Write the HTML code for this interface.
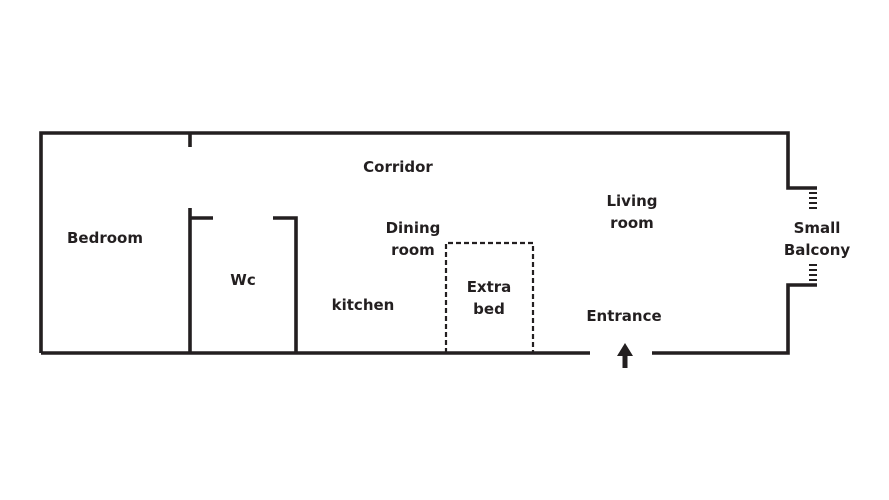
<!DOCTYPE html>
<html><head><style>
body{margin:0;background:#fff;}
svg{display:block}
text{font-family:"DejaVu Sans","Liberation Sans",sans-serif;font-weight:bold;font-size:15px;fill:#231f20;text-anchor:middle}
</style></head><body>
<svg width="889" height="500" viewBox="0 0 889 500">
<g stroke="#231f20" stroke-width="3.6" fill="none" stroke-linecap="butt">
<polyline points="41,353 41,133 788,133 788,188 817,188"/>
<polyline points="817,285 788,285 788,353 652,353"/>
<line x1="41" y1="353" x2="590" y2="353"/>
<line x1="190" y1="133" x2="190" y2="147"/>
<line x1="190" y1="208" x2="190" y2="353"/>
<line x1="190" y1="218" x2="213" y2="218"/>
<polyline points="273,218 296,218 296,353"/>
</g>
<g stroke="#231f20" stroke-width="2.2" fill="none" stroke-dasharray="5,3">
<polyline points="446,353 446,243 533,243 533,353"/>
</g>
<g stroke="#231f20" stroke-width="2">
<line x1="809" x2="817" y1="193" y2="193"/><line x1="809" x2="817" y1="198" y2="198"/>
<line x1="809" x2="817" y1="203" y2="203"/><line x1="809" x2="817" y1="208" y2="208"/>
<line x1="809" x2="817" y1="265" y2="265"/><line x1="809" x2="817" y1="270" y2="270"/>
<line x1="809" x2="817" y1="275" y2="275"/><line x1="809" x2="817" y1="280" y2="280"/>
</g>
<polygon points="625,343 617,356 633,356" fill="#231f20"/>
<rect x="622.5" y="354" width="5" height="14" fill="#231f20"/>
<text x="398" y="172">Corridor</text>
<text x="105" y="243">Bedroom</text>
<text x="243" y="285">Wc</text>
<text x="413" y="233">Dining</text>
<text x="413" y="255">room</text>
<text x="363" y="310">kitchen</text>
<text x="489" y="292">Extra</text>
<text x="489" y="314">bed</text>
<text x="632" y="206">Living</text>
<text x="632" y="228">room</text>
<text x="624" y="321">Entrance</text>
<text x="817" y="233">Small</text>
<text x="817" y="255">Balcony</text>
</svg>
</body></html>
